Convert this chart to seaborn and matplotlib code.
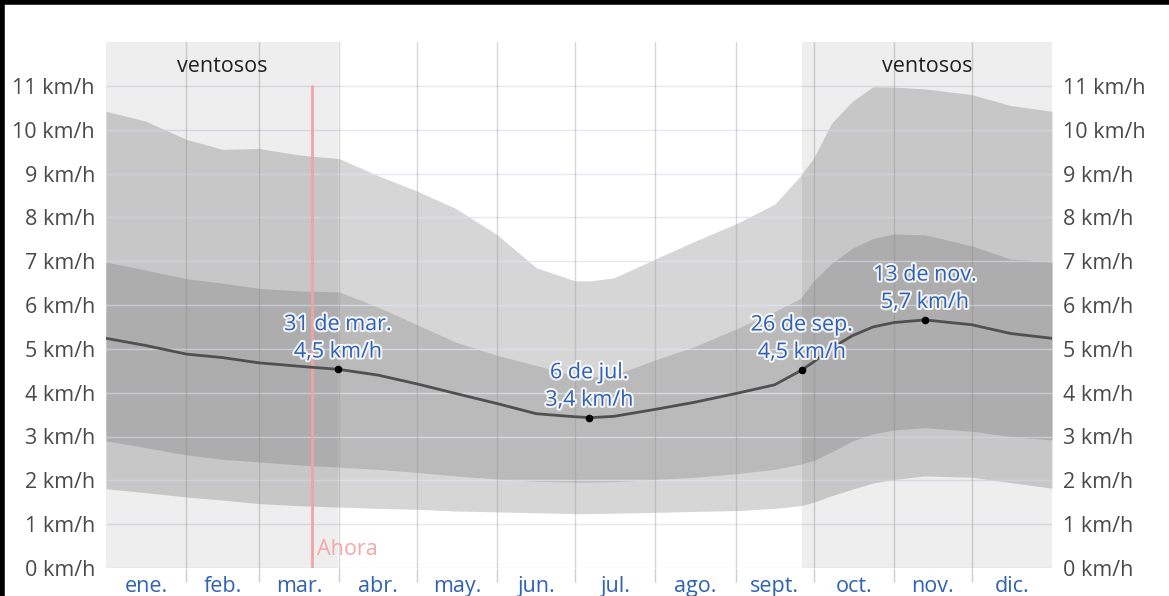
import numpy as np
import pandas as pd
import matplotlib
matplotlib.use("Agg")
import matplotlib.pyplot as plt
import matplotlib.patheffects as pe
from matplotlib.lines import Line2D
import seaborn as sns

# Datos (dia del año -> velocidad del viento, km/h)
dias = [0, 15, 31, 45, 59, 75, 90, 105, 120, 135, 151, 166, 181, 187, 196,
        212, 227, 243, 258, 268, 273, 280, 288, 296, 304, 316, 334, 349, 365]
media = [5.24, 5.08, 4.88, 4.80, 4.68, 4.60, 4.53, 4.40, 4.20, 3.98, 3.75, 3.52,
         3.45, 3.43, 3.46, 3.62, 3.78, 3.98, 4.18, 4.50, 4.70, 5.02, 5.30, 5.50,
         5.60, 5.66, 5.55, 5.35, 5.24]
p90 = [10.42, 10.20, 9.78, 9.55, 9.57, 9.42, 9.34, 8.95, 8.60, 8.20, 7.60, 6.85,
       6.55, 6.55, 6.62, 7.05, 7.45, 7.85, 8.30, 8.95, 9.35, 10.15, 10.65, 10.98,
       10.97, 10.93, 10.80, 10.55, 10.42]
p75 = [6.98, 6.80, 6.60, 6.50, 6.38, 6.32, 6.30, 5.95, 5.55, 5.15, 4.85, 4.62,
       4.38, 4.36, 4.40, 4.75, 5.05, 5.45, 5.85, 6.15, 6.55, 6.95, 7.30, 7.52,
       7.62, 7.60, 7.35, 7.05, 6.98]
p25 = [2.90, 2.75, 2.58, 2.48, 2.42, 2.35, 2.30, 2.25, 2.18, 2.10, 2.03, 1.98,
       1.96, 1.96, 1.97, 2.02, 2.07, 2.15, 2.25, 2.37, 2.45, 2.65, 2.90, 3.06,
       3.15, 3.20, 3.12, 3.00, 2.92]
p10 = [1.81, 1.72, 1.62, 1.55, 1.47, 1.42, 1.39, 1.36, 1.34, 1.30, 1.28, 1.26,
       1.24, 1.24, 1.25, 1.27, 1.29, 1.31, 1.36, 1.42, 1.50, 1.65, 1.80, 1.94,
       2.02, 2.10, 2.07, 1.95, 1.82]

meses = ["ene.", "feb.", "mar.", "abr.", "may.", "jun.", "jul.", "ago.",
         "sept.", "oct.", "nov.", "dic."]
inicio_mes = [0, 31, 59, 90, 120, 151, 181, 212, 243, 273, 304, 334, 365]

ventosos = [(0, 89.5), (268.5, 365)]
ahora = 79.5

notas_dia = [89.5, 186.5, 268.5, 316]
notas_val = [4.53, 3.43, 4.52, 5.66]
notas_txt = ["31 de mar.\n4,5 km/h", "6 de jul.\n3,4 km/h",
             "26 de sep.\n4,5 km/h", "13 de nov.\n5,7 km/h"]

df = pd.DataFrame({"dia": dias, "media": media, "p90": p90, "p75": p75,
                   "p25": p25, "p10": p10})

sns.set_theme(style="white")
plt.rcParams["font.family"] = ["Open Sans", "DejaVu Sans"]
fs = 15.5

fig = plt.figure(figsize=(11.69, 5.96), dpi=100)
ax = fig.add_axes([106 / 1169, 28 / 596, 946 / 1169, 526 / 596])

# bandas de percentiles
ax.fill_between(df["dia"], df["p10"], df["p90"], color="#d6d6d6", lw=0, zorder=1)
ax.fill_between(df["dia"], df["p25"], df["p75"], color="#bababa", lw=0, zorder=1.1)

# cuadricula
for v in range(0, 12):
    ax.axhline(v, color="#dde4ec", lw=1, alpha=0.8, zorder=1.5)
for d in inicio_mes[1:-1]:
    ax.axvline(d, color="#8f8f8f", lw=1, alpha=0.35, zorder=1.5)

# periodos ventosos
for a, b in ventosos:
    ax.axvspan(a, b, color="black", alpha=0.065, lw=0, zorder=2)
    ax.text((a + b) / 2, 11.45, "ventosos", ha="center", va="center",
            fontsize=fs, color="#222222", zorder=6)

# linea "Ahora"
ax.plot([ahora, ahora], [0, 11], color="#f2a3a3", lw=2, zorder=3)
ax.text(ahora + 2, 0.42, "Ahora", color="#f4a7a7", fontsize=fs,
        ha="left", va="center", zorder=6)

# velocidad media
sns.lineplot(data=df, x="dia", y="media", color="#505050", lw=2, ax=ax,
             zorder=4)
ax.scatter(notas_dia, notas_val, s=20, color="black", zorder=5)
for d, v, t in zip(notas_dia, notas_val, notas_txt):
    ax.annotate(t, (d, v), xytext=(0, 5), textcoords="offset points",
                ha="center", va="bottom", fontsize=fs, color="#2f62b6",
                linespacing=1.4, zorder=6,
                path_effects=[pe.withStroke(linewidth=3, foreground="white",
                                            alpha=0.85)])

ax.set_xlim(0, 365)
ax.set_ylim(0, 12)
ax.set_yticks(range(0, 12))
ax.set_yticklabels([f"{v} km/h" for v in range(0, 12)])
ax.tick_params(axis="y", labelsize=fs, labelcolor="#4a4a4a", length=0,
               pad=8, labelright=True)

centros = [(inicio_mes[i] + inicio_mes[i + 1]) / 2 for i in range(12)]
ax.set_xticks(centros)
ax.set_xticklabels(meses)
ax.set_xticks(inicio_mes[1:-1], minor=True)
ax.tick_params(axis="x", which="major", labelsize=fs, labelcolor="#2f62b6",
               length=0, pad=6)
ax.tick_params(axis="x", which="minor", length=10, color="#cfcfcf",
               bottom=True, direction="out")
ax.set_xlabel("")
ax.set_ylabel("")
for s in ax.spines.values():
    s.set_visible(False)

# marco negro de la imagen
fig.add_artist(Line2D([0.002, 0.002], [0, 1], color="black", lw=4,
                      transform=fig.transFigure))
fig.add_artist(Line2D([0, 1], [0.997, 0.997], color="black", lw=4,
                      transform=fig.transFigure))

fig.savefig("out.png", dpi=100)
